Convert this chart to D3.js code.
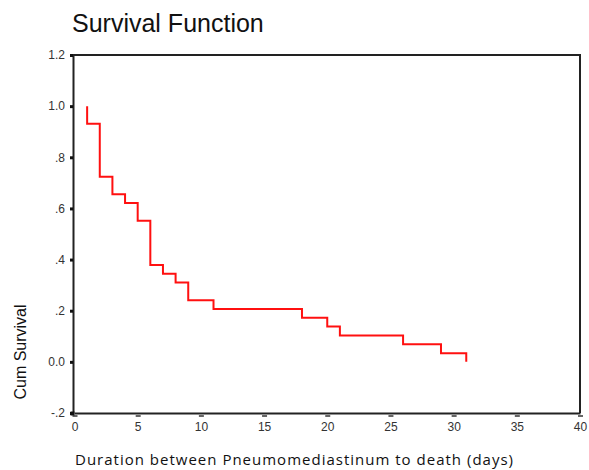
<!DOCTYPE html>
<html>
<head>
<meta charset="utf-8">
<script src="https://cdn.jsdelivr.net/npm/d3@7"></script>
<style>
    body { margin: 0; background: #fff; }
    svg { display: block; font-family: "Liberation Sans", Arial, sans-serif; }
</style>
</head>
<body>
<svg id="chart" width="589" height="470"></svg>
<script>
// Kaplan-Meier estimate
const DAYS = [1, 1, 2, 3, 4, 5, 6, 7, 8, 9, 11, 18, 20, 21, 26, 29, 31];
const SURVIVAL = [1.0, 0.931, 0.724, 0.655, 0.621, 0.552, 0.379, 0.345, 0.31, 0.241, 0.207, 0.172, 0.138, 0.103, 0.069, 0.034, 0.0];

const X_TICKS = [0, 5, 10, 15, 20, 25, 30, 35, 40];
const Y_TICKS = [-0.2, 0, 0.2, 0.4, 0.6, 0.8, 1.0, 1.2];
const Y_TICK_LABELS = ["-.2", "0.0", ".2", ".4", ".6", ".8", "1.0", "1.2"];

const LEFT = 73, RIGHT = 580, TOP = 55, BOTTOM = 413;

const svg = d3.select("#chart");

const x = d3.scaleLinear().domain([0, 40]).range([LEFT + 1.5, RIGHT]);
const y = d3.scaleLinear().domain([-0.2, 1.2]).range([BOTTOM, TOP]);

// frame (top + right)
svg.append("path")
    .attr("d", `M${LEFT},${TOP}H${RIGHT}V${BOTTOM}`)
    .attr("fill", "none")
    .attr("stroke", "#222")
    .attr("stroke-width", 2);

const yAxis = d3
    .axisLeft(y)
    .tickValues(Y_TICKS)
    .tickSize(3)
    .tickPadding(5)
    .tickFormat((d, i) => Y_TICK_LABELS[i]);

const gy = svg.append("g").attr("transform", `translate(${LEFT},0)`).call(yAxis);
gy.select(".domain").attr("stroke", "#222").attr("stroke-width", 2);
gy.selectAll(".tick line").attr("stroke", "#111").attr("stroke-width", 3);
gy.selectAll(".tick text").attr("font-size", 12).attr("fill", "#333").attr("font-family", "'Liberation Sans', Arial, sans-serif");

const xAxis = d3.axisBottom(x).tickValues(X_TICKS).tickSize(0).tickPadding(9);
const gx = svg.append("g").attr("transform", `translate(0,${BOTTOM})`).call(xAxis);
gx.select(".domain").attr("stroke", "#222").attr("stroke-width", 2);
gx.selectAll(".tick text").attr("font-size", 12).attr("fill", "#333").attr("font-family", "'Liberation Sans', Arial, sans-serif");
gx.selectAll(".tick")
    .append("line")
    .attr("x1", -2.5)
    .attr("x2", 2.5)
    .attr("y1", 3)
    .attr("y2", 3)
    .attr("stroke", "#333")
    .attr("stroke-width", 1.5);

// corner dot
svg.append("rect")
    .attr("x", LEFT - 2.5)
    .attr("y", BOTTOM - 1.5)
    .attr("width", 4)
    .attr("height", 4)
    .attr("fill", "#111");

// survival step line
const line = d3
    .line()
    .x((d) => x(d[0]))
    .y((d) => y(d[1]))
    .curve(d3.curveStepAfter);

svg.append("path")
    .datum(DAYS.map((d, i) => [d, SURVIVAL[i]]))
    .attr("d", line)
    .attr("fill", "none")
    .attr("stroke", "#ff1010")
    .attr("stroke-width", 2);

// titles
svg.append("text")
    .attr("x", 72)
    .attr("y", 32)
    .attr("font-size", 25)
    .attr("fill", "#111")
    .text("Survival Function");

svg.append("text")
    .attr("transform", "translate(26,352) rotate(-90)")
    .attr("text-anchor", "middle")
    .attr("font-size", 16)
    .attr("fill", "#111")
    .text("Cum Survival");

svg.append("text")
    .attr("x", 75)
    .attr("y", 465)
    .attr("font-size", 15)
    .attr("font-family", "'Open Sans', sans-serif")
    .attr("textLength", 438)
    .attr("fill", "#111")
    .text("Duration between Pneumomediastinum to death (days)");
</script>
</body>
</html>
